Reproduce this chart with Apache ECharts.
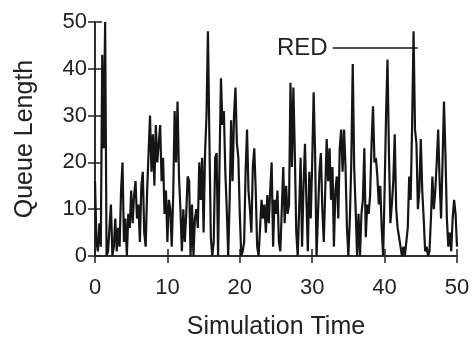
<!DOCTYPE html>
<html>
<head>
<meta charset="utf-8">
<script src="https://cdn.jsdelivr.net/npm/echarts@6/dist/echarts.min.js"></script>
<style>
html,body{margin:0;padding:0;background:#fff;}
#chart{width:473px;height:347px;}
</style>
</head>
<body>
<div id="chart"></div>
<script>
// Sample interval of the simulation trace (time units)
var sampleStep = 0.2;
// Queue length samples, one per sampleStep, from t=0 to t=50
var queueLength = [
  16, 3, 1, 7, 2,    43, 23, 50, 0, 1,
  1, 11, 0, 2, 8,    1, 6, 2, 14, 20,
  3, 8, 0, 9, 6,     14, 7, 13, 16, 8,
  11, 3, 15, 18, 5,  2, 14, 22, 30, 18,
  26, 15, 28, 20, 24, 28, 16, 21, 9, 14,
  3, 12, 10, 2, 13,  31, 20, 33, 17, 10,
  1, 10, 3, 9, 17,   16, 0, 11, 0, 8,
  10, 6, 20, 12, 21, 5, 22, 30, 48, 25,
  4, 0, 3, 21, 22,   0, 20, 38, 28, 31,
  18, 10, 0, 12, 29, 16, 30, 36, 24, 21,
  9, 0, 1, 3, 18,    27, 14, 10, 5, 19,
  23, 14, 2, 0, 6,   12, 8, 11, 5, 13,
  7, 14, 20, 2, 12,  9, 14, 3, 1, 10,
  19, 7, 15, 9, 11,  37, 19, 36, 22, 5,
  0, 10, 21, 2, 15,  24, 12, 1, 18, 8,
  20, 35, 22, 0, 9,  18, 22, 10, 3, 14,
  25, 16, 23, 12, 19, 2, 14, 17, 8, 23,
  27, 18, 27, 19, 6, 0, 8, 20, 41, 19,
  10, 0, 9, 0, 9,    12, 23, 4, 11, 9,
  13, 24, 32, 20, 21, 17, 11, 15, 6, 0,
  14, 30, 42, 22, 7, 11, 16, 26, 10, 6,
  4, 2, 0, 2, 0,     3, 6, 17, 12, 28,
  48, 27, 24, 10, 14, 25, 14, 8, 1, 2,
  0, 1, 8, 17, 10,   14, 20, 27, 16, 8,
  20, 33, 22, 8, 2,  5, 1, 8, 12, 9,
  2
];
var xTicks = [0, 10, 20, 30, 40, 50];
var yTicks = [0, 10, 20, 30, 40, 50];
var seriesName = 'RED';

var points = queueLength.map(function (v, i) {
  return [+(i * sampleStep).toFixed(1), v];
});

var FONT = '"Liberation Sans", Arial, Helvetica, sans-serif';
var ink = '#222';

function xAxisCfg(pos, labels) {
  return {
    type: 'value', position: pos, min: xTicks[0], max: xTicks[xTicks.length - 1], interval: 10,
    axisLine: { show: true, lineStyle: { color: ink, width: 1.5 } },
    axisTick: { show: true, inside: true, length: 7, lineStyle: { color: ink, width: 1.5 } },
    axisLabel: { show: labels, color: ink, fontFamily: FONT, fontSize: 22, margin: 21 },
    splitLine: { show: false }
  };
}
function yAxisCfg(pos, labels) {
  return {
    type: 'value', position: pos, min: yTicks[0], max: yTicks[yTicks.length - 1], interval: 10,
    axisLine: { show: true, lineStyle: { color: ink, width: 1.5 } },
    axisTick: { show: true, inside: true, length: 7, lineStyle: { color: ink, width: 1.5 } },
    axisLabel: { show: labels, color: ink, fontFamily: FONT, fontSize: 22, margin: 8 },
    splitLine: { show: false }
  };
}

var xb = xAxisCfg('bottom', true);
xb.name = 'Simulation Time';
xb.nameLocation = 'middle';
xb.nameGap = 59;
xb.nameTextStyle = { color: ink, fontFamily: FONT, fontSize: 25 };
var yl = yAxisCfg('left', true);
yl.name = 'Queue Length';
yl.nameLocation = 'middle';
yl.nameGap = 57;
yl.nameTextStyle = { color: ink, fontFamily: FONT, fontSize: 25 };

var chart = echarts.init(document.getElementById('chart'), null, { renderer: 'canvas' });
chart.setOption({
  animation: false,
  backgroundColor: '#fff',
  grid: { left: 95, right: 16, top: 22, bottom: 91 },
  xAxis: [xb, xAxisCfg('top', false)],
  yAxis: [yl, yAxisCfg('right', false)],
  legend: {
    data: [seriesName],
    left: 272, top: 31,
    align: 'right',
    icon: 'rect',
    itemWidth: 85, itemHeight: 1.5,
    itemGap: 8,
    textStyle: { color: ink, fontFamily: FONT, fontSize: 24 }
  },
  series: [{
    name: seriesName,
    type: 'line',
    xAxisIndex: 0, yAxisIndex: 0,
    data: points,
    showSymbol: false,
    symbol: 'none',
    lineStyle: { color: '#151515', width: 2.2 },
    itemStyle: { color: '#151515' }
  }]
});
</script>
</body>
</html>
